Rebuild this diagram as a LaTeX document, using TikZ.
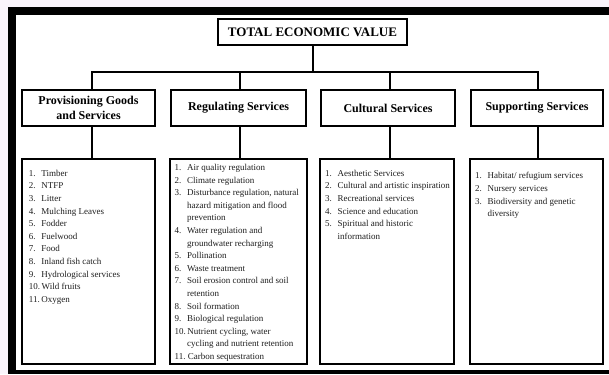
\documentclass[tikz,border=0pt]{standalone}
\usepackage{fontspec}
\setmainfont{Liberation Serif}
\definecolor{bgdot}{RGB}{250,244,251}
\definecolor{txt}{RGB}{30,30,30}
\newcommand{\itm}[2]{\strut\makebox[12.5pt][l]{#1}#2}
\newcommand{\cont}[1]{\strut\hspace{12.5pt}#1}
\begin{document}
\begin{tikzpicture}[x=1pt,y=-1pt,
  frame/.style={draw=black,line width=2.4pt,fill=white,inner sep=0pt},
  titlebox/.style={frame,line width=2.2pt,minimum width=189pt,minimum height=26pt,font=\fontsize{13}{15}\selectfont\bfseries},
  headbox/.style={frame,minimum height=36pt,align=center,font=\fontsize{12}{14.4}\selectfont\bfseries},
  listbox/.style={frame,line width=2.6pt,minimum height=205pt},
  listtext/.style={anchor=north west,inner sep=0pt,align=left,text=txt,font=\fontsize{9}{12.6}\selectfont},
  conn/.style={line width=2pt}]
\useasboundingbox (0,0) rectangle (609,374);
% background and outer frame
\fill[bgdot] (0,0) rectangle (609,374);
\fill[black] (8,7) rectangle (609,374);
\fill[white] (16,15) rectangle (609,369.5);
% title
\node[titlebox] (title) at (312.5,32) {TOTAL ECONOMIC VALUE};
% headers
\node[headbox,minimum width=133pt] (h1) at (88.5,108) {Provisioning Goods\\and Services};
\node[headbox,minimum width=135pt] (h2) at (238.5,108) {Regulating Services};
\node[headbox,minimum width=134pt] (h3) at (388,108) {Cultural Services};
\node[headbox,minimum width=132pt] (h4) at (537,108) {Supporting Services};
% lower boxes
\node[listbox,minimum width=133pt] (l1) at (88.5,261.5) {};
\node[listbox,minimum width=137pt] (l2) at (238.5,261.5) {};
\node[listbox,minimum width=134pt] (l3) at (387,261.5) {};
\node[listbox,minimum width=133pt] (l4) at (536.5,261.5) {};
% connectors
\coordinate (bus) at (312.5,72);
\coordinate (t1) at ([xshift=3.5pt]h1.north);
\coordinate (t2) at ([xshift=1.5pt]h2.north);
\coordinate (t3) at ([xshift=2pt]h3.north);
\coordinate (t4) at ([xshift=1pt]h4.north);
\draw[conn] (title.south) -- (bus);
\draw[conn] (t1) |- (bus) -| (t4);
\draw[conn] (t2) -- (t2 |- bus);
\draw[conn] (t3) -- (t3 |- bus);
\draw[conn] (t1 |- h1.south) -- (t1 |- l1.north);
\draw[conn] (t2 |- h2.south) -- (t2 |- l2.north);
\draw[conn] (t3 |- h3.south) -- (t3 |- l3.north);
\draw[conn] (t4 |- h4.south) -- (t4 |- l4.north);
% lists
\node[listtext] (list1) at (28.7,167.2) {%
\itm{1.}{Timber}\\
\itm{2.}{NTFP}\\
\itm{3.}{Litter}\\
\itm{4.}{Mulching Leaves}\\
\itm{5.}{Fodder}\\
\itm{6.}{Fuelwood}\\
\itm{7.}{Food}\\
\itm{8.}{Inland fish catch}\\
\itm{9.}{Hydrological services}\\
\strut 10.\,Wild fruits\\
\strut 11.\,Oxygen};
\node[listtext] (list2) at (174.5,161.5) {%
\itm{1.}{Air quality regulation}\\
\itm{2.}{Climate regulation}\\
\itm{3.}{Disturbance regulation, natural}\\
\cont{hazard mitigation and flood}\\
\cont{prevention}\\
\itm{4.}{Water regulation and}\\
\cont{groundwater recharging}\\
\itm{5.}{Pollination}\\
\itm{6.}{Waste treatment}\\
\itm{7.}{Soil erosion control and soil}\\
\cont{retention}\\
\itm{8.}{Soil formation}\\
\itm{9.}{Biological regulation}\\
\strut 10.\,Nutrient cycling, water\\
\cont{cycling and nutrient retention}\\
\strut 11.\ Carbon sequestration};
\node[listtext] (list3) at (325,167.2) {%
\itm{1.}{Aesthetic Services}\\
\itm{2.}{Cultural and artistic inspiration}\\
\itm{3.}{Recreational services}\\
\itm{4.}{Science and education}\\
\itm{5.}{Spiritual and historic}\\
\cont{information}};
\node[listtext] (list4) at (475,169.9) {%
\itm{1.}{Habitat/ refugium services}\\
\itm{2.}{Nursery services}\\
\itm{3.}{Biodiversity and genetic}\\
\cont{diversity}};
\end{tikzpicture}
\end{document}
